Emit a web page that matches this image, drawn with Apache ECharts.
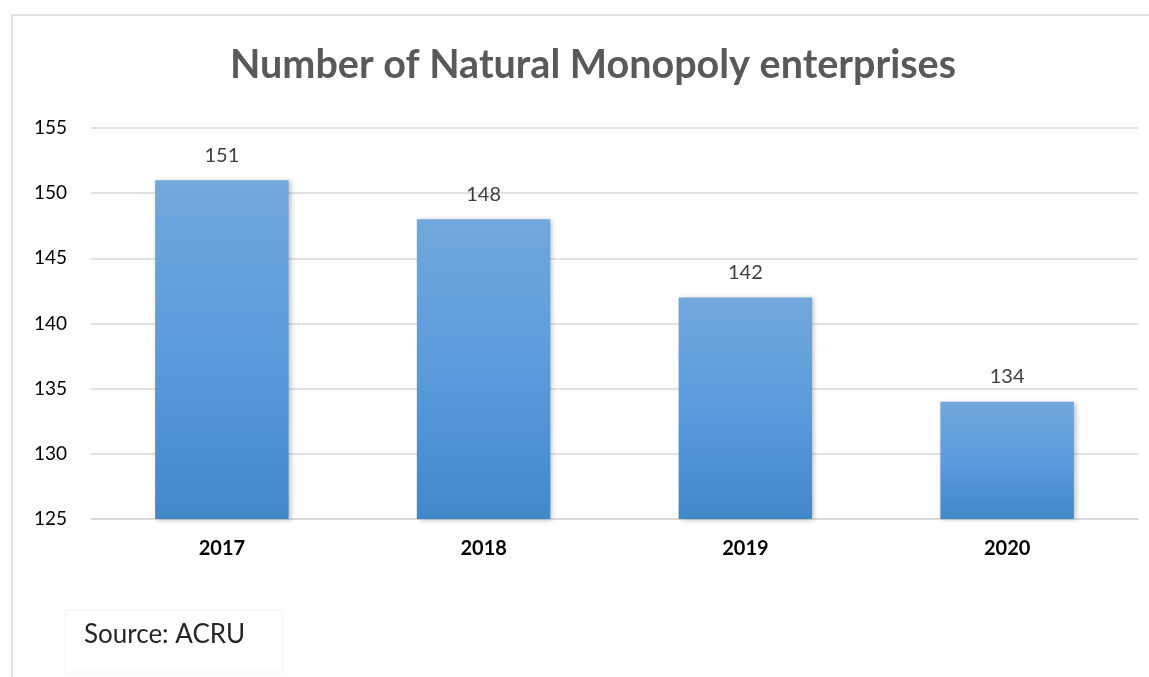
<!DOCTYPE html>
<html><head><meta charset="utf-8">
<script src="https://cdn.jsdelivr.net/npm/echarts@6/dist/echarts.min.js"></script>
<style>html,body{margin:0;padding:0;background:#fff}#c{width:1149px;height:677px}</style>
</head><body><div id="c"></div>
<script>
const categories = ['2017', '2018', '2019', '2020'];
const values = [151, 148, 142, 134];
const yTicks = [125, 130, 135, 140, 145, 150, 155];
const titleText = 'Number of Natural Monopoly enterprises';
const sourceText = 'Source: ACRU';

const chart = echarts.init(document.getElementById('c'));
chart.setOption({
  animation: false,
  backgroundColor: '#fff',
  title: {
    text: titleText, left: 588, top: 40, textAlign: 'center',
    textStyle: {fontFamily: 'Lato', fontWeight: 'bold', fontSize: 39.5, color: '#595959'}
  },
  graphic: [
    {type: 'rect', shape: {x: 12, y: 15, width: 1160, height: 700}, style: {fill: 'none', stroke: '#d9d9d9', lineWidth: 1.5}, silent: true},
    {type: 'rect', shape: {x: 65, y: 610, width: 217, height: 62}, style: {fill: '#fff', stroke: '#f4f4f4', lineWidth: 1}, silent: true},
    {type: 'text', left: 84, top: 622, style: {text: sourceText, font: '26px Lato', fill: '#262626'}}
  ],
  grid: {left: 91, right: 11, top: 128, bottom: 158},
  xAxis: {
    type: 'category', data: categories,
    axisLine: {show: true, lineStyle: {color: '#d9d9d9', width: 1.5}},
    axisTick: {show: false},
    axisLabel: {fontFamily: 'Lato', fontWeight: 'bold', fontSize: 20, color: '#000', margin: 20}
  },
  yAxis: {
    type: 'value', min: yTicks[0], max: yTicks[yTicks.length - 1], interval: 5,
    axisLine: {show: false}, axisTick: {show: false},
    splitLine: {lineStyle: {color: '#d9d9d9', width: 1.5}},
    axisLabel: {fontFamily: 'Lato', fontSize: 19, color: '#000', margin: 24}
  },
  series: [{
    type: 'bar', data: values, barWidth: '51%',
    itemStyle: {
      color: new echarts.graphic.LinearGradient(0, 0, 0, 1, [
        {offset: 0, color: '#71a7dc'}, {offset: 0.5, color: '#5a9cdc'}, {offset: 1, color: '#4188ca'}
      ]),
      shadowColor: 'rgba(0,0,0,0.25)', shadowBlur: 5, shadowOffsetX: 2, shadowOffsetY: 1
    },
    label: {show: true, position: 'top', distance: 15, fontFamily: 'Lato', fontSize: 20, color: '#404040'}
  }]
});
</script></body></html>
